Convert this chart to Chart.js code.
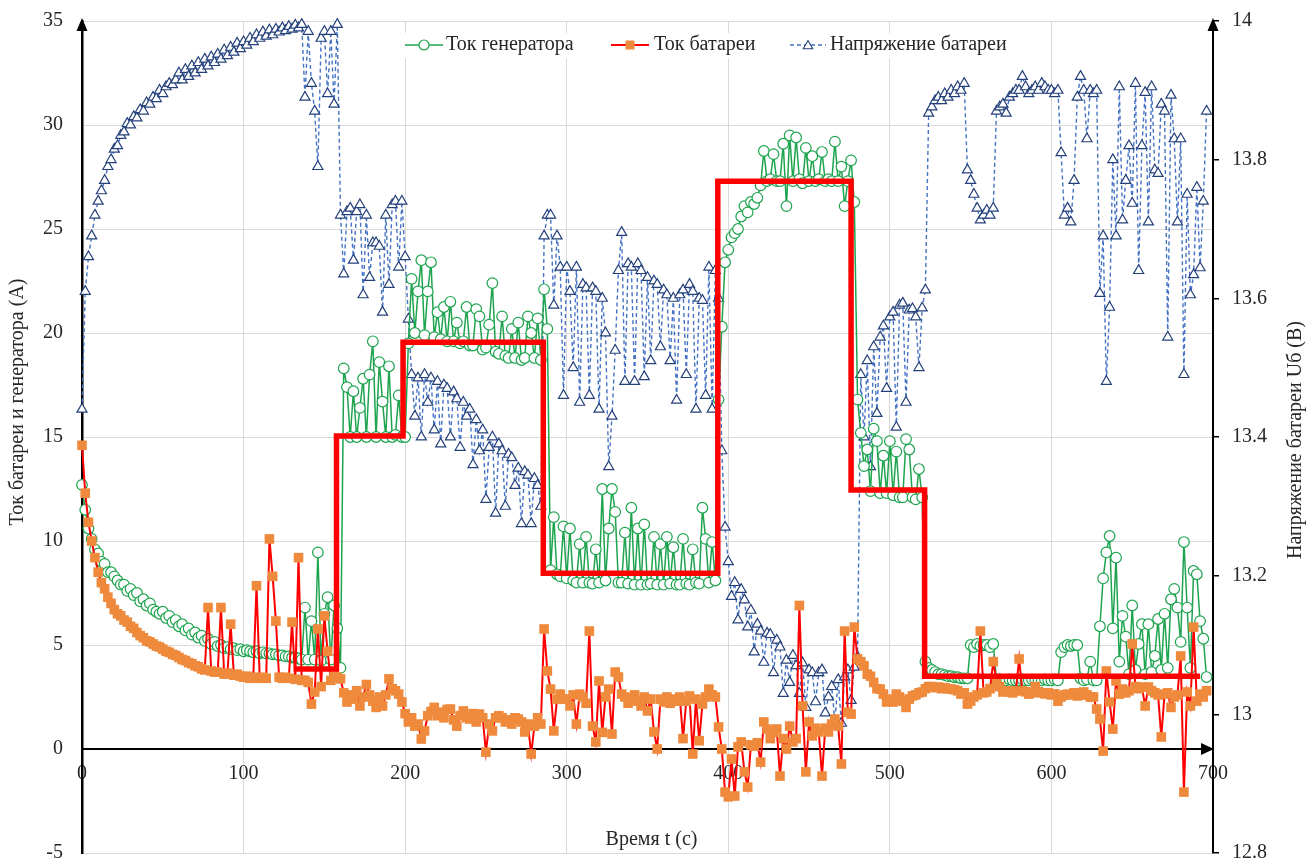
<!DOCTYPE html>
<html><head><meta charset="utf-8">
<script src="https://cdn.jsdelivr.net/npm/chart.js@4.4.1/dist/chart.umd.min.js"></script>
<style>html,body{margin:0;padding:0;background:#fff;}canvas{display:block;}</style>
</head><body>
<canvas id="c" width="1308" height="863"></canvas>
<script>
const time = [
0,2,4,6,8,10,12,14,16,18,
20,22,24,26,28,30,32,34,36,38,
40,42,44,46,48,50,52,54,56,58,
60,62,64,66,68,70,72,74,76,78,
80,82,84,86,88,90,92,94,96,98,
100,102,104,106,108,110,112,114,116,118,
120,122,124,126,128,130,132,134,136,138,
140,142,144,146,148,150,152,154,156,158,
160,162,164,166,168,170,172,174,176,178,
180,182,184,186,188,190,192,194,196,198,
200,202,204,206,208,210,212,214,216,218,
220,222,224,226,228,230,232,234,236,238,
240,242,244,246,248,250,252,254,256,258,
260,262,264,266,268,270,272,274,276,278,
280,282,284,286,288,290,292,294,296,298,
300,302,304,306,308,310,312,314,316,318,
320,322,324,326,328,330,332,334,336,338,
340,342,344,346,348,350,352,354,356,358,
360,362,364,366,368,370,372,374,376,378,
380,382,384,386,388,390,392,394,396,398,
400,402,404,406,408,410,412,414,416,418,
420,422,424,426,428,430,432,434,436,438,
440,442,444,446,448,450,452,454,456,458,
460,462,464,466,468,470,472,474,476,478,
480,482,484,486,488,490,492,494,496,498,
500,502,504,506,508,510,512,514,516,518,
520,522,524,526,528,530,532,534,536,538,
540,542,544,546,548,550,552,554,556,558,
560,562,564,566,568,570,572,574,576,578,
580,582,584,586,588,590,592,594,596,598,
600,602,604,606,608,610,612,614,616,618,
620,622,624,626,628,630,632,634,636,638,
640,642,644,646,648,650,652,654,656,658,
660,662,664,666,668,670,672,674,676,678,
680,682,684,686,688,690,692,694,696];

const generatorCurrent = [
12.7,11.5,10.6,10.1,9.6,9.4,9.0,8.9,8.5,8.5,
8.3,8.1,7.9,7.9,7.6,7.7,7.4,7.5,7.1,7.2,
6.9,7.0,6.7,6.6,6.5,6.6,6.3,6.4,6.1,6.2,
5.9,6.0,5.7,5.8,5.5,5.6,5.35,5.45,5.2,5.3,
5.05,5.15,4.95,5.0,4.85,4.9,4.8,4.85,4.75,4.8,
4.7,4.75,4.7,4.65,4.7,4.6,4.65,4.6,4.6,4.55,
4.55,4.5,4.5,4.45,4.45,4.4,4.4,4.35,4.3,6.8,
4.3,6.15,4.3,9.45,4.25,6.5,7.3,4.3,6.9,5.8,
3.9,18.3,17.4,15.0,17.2,15.0,16.4,17.8,15.0,18.0,
19.6,15.0,18.6,16.7,15.0,18.4,15.0,15.1,17.0,15.0,
15.0,19.5,22.6,20.0,22.0,23.5,19.9,22.0,23.4,19.8,
21.0,19.7,21.25,19.6,21.5,19.6,20.5,19.5,19.6,21.25,
19.4,19.4,21.15,20.8,19.2,19.3,20.4,22.4,19.1,19.0,
20.8,18.9,18.8,20.2,18.8,20.5,18.7,18.8,20.8,20.0,
18.8,20.7,18.7,22.1,20.2,8.6,11.15,8.4,8.3,10.7,
8.2,10.6,8.1,8.0,9.85,8.0,10.2,8.0,7.95,9.6,
8.0,12.5,8.1,10.6,12.5,11.4,8.0,8.0,10.4,7.95,
11.6,7.9,10.6,7.9,10.8,7.9,7.95,10.2,7.9,9.85,
7.9,10.2,7.95,9.7,7.9,7.9,10.1,7.95,7.9,9.6,
8.0,7.95,11.6,10.1,8.0,9.95,8.1,16.8,20.3,23.4,
24.0,24.6,24.8,25.0,25.6,26.1,25.8,26.3,26.2,26.5,
27.1,28.75,27.3,27.4,28.6,27.3,27.3,29.1,26.1,29.5,
27.3,29.4,27.4,27.2,28.9,27.3,28.5,27.3,27.4,28.7,
27.3,27.4,27.3,29.2,27.3,28.0,26.1,27.3,28.3,26.3,
16.8,15.2,13.6,14.4,12.4,15.4,14.8,12.3,14.1,12.3,
14.8,12.2,14.3,12.1,12.1,14.9,14.4,12.1,12.0,13.46,
12.1,4.2,3.9,3.8,3.7,3.6,3.6,3.55,3.5,3.5,
3.45,3.45,3.4,3.4,3.4,5.0,4.9,5.05,4.95,5.0,
5.0,4.9,5.05,3.3,3.35,3.3,3.3,3.35,3.3,3.3,
3.3,3.35,3.3,3.3,3.35,3.3,3.3,3.3,3.35,3.3,
3.3,3.35,3.3,4.66,4.9,5.0,4.95,5.0,5.0,3.4,
3.3,3.35,4.2,3.3,3.3,5.9,8.2,9.45,10.24,5.8,
9.2,4.2,6.4,5.4,3.6,6.9,3.8,5.05,6.0,3.6,
6.0,3.7,4.47,6.25,3.8,6.5,3.9,7.2,7.7,6.8,
5.15,9.95,6.8,3.9,8.56,8.4,6.15,5.3,3.46];

const batteryCurrent = [
14.6,12.3,10.9,10.0,9.2,8.5,8.0,7.7,7.3,7.0,
6.7,6.5,6.4,6.2,6.1,5.9,5.8,5.6,5.45,5.35,
5.2,5.15,5.05,4.95,4.9,4.8,4.7,4.65,4.55,4.5,
4.4,4.3,4.25,4.15,4.1,4.0,3.95,3.85,3.8,6.8,
3.75,3.7,3.7,6.8,3.6,3.65,6.0,3.55,3.6,3.5,
3.45,3.5,3.4,3.45,7.85,3.4,3.45,3.4,10.1,8.3,
6.15,3.45,3.4,3.45,3.4,6.1,3.35,9.2,3.3,3.3,
3.2,2.16,2.74,5.77,3.0,6.4,4.7,3.3,3.5,3.45,
3.37,2.7,2.26,2.6,2.4,2.8,2.07,2.5,3.1,2.6,
2.3,2.0,2.5,2.07,2.6,3.37,2.9,2.8,2.64,2.26,
1.7,1.3,1.5,1.1,1.2,0.48,0.87,1.6,1.8,2.0,
1.6,1.77,1.5,1.9,1.92,1.4,1.1,1.6,1.83,1.5,
1.44,1.7,1.3,1.68,1.5,-0.15,1.2,0.87,1.5,1.6,
1.5,1.3,1.4,1.2,1.5,1.44,1.3,0.82,1.2,-0.24,
1.1,1.5,1.2,5.77,3.75,2.88,0.87,2.4,2.64,2.4,
2.4,2.07,2.6,1.2,2.64,2.5,2.2,5.67,1.1,0.34,
3.27,0.8,2.5,2.88,0.72,3.7,3.46,2.64,2.5,2.2,
2.4,2.6,2.3,2.07,2.5,1.83,2.4,0.82,0.0,2.4,
2.26,2.5,2.2,2.4,2.3,2.5,0.5,2.3,2.55,-0.24,
2.4,0.4,2.16,2.5,2.88,2.6,2.5,1.06,0.0,-2.07,
-2.3,-0.48,-2.26,0.1,0.34,-1.1,-1.83,0.2,0.14,0.3,
-0.63,1.3,0.96,0.5,0.8,0.96,-1.3,0.5,0.0,1.1,
0.34,0.5,6.9,2.07,-1.1,1.3,0.63,1.0,0.82,-1.3,
1.0,0.82,1.2,1.44,1.1,-0.72,5.67,1.77,1.68,5.86,
4.33,4.2,4.0,3.6,3.5,3.2,2.9,2.88,2.64,2.26,
2.4,2.26,2.64,2.5,2.3,2.0,2.4,2.55,2.6,2.7,
2.74,2.9,3.0,3.0,2.95,2.98,2.9,2.95,2.9,2.88,
2.85,2.8,2.64,2.7,2.16,2.3,2.5,2.6,5.67,2.7,
2.74,2.9,4.2,3.27,3.0,2.74,2.8,2.75,2.7,2.8,
4.33,2.8,2.75,2.64,2.7,3.0,2.75,2.7,2.65,2.7,
2.6,2.65,2.3,2.5,2.6,2.64,2.6,2.7,2.55,2.6,
2.74,2.6,2.5,2.5,1.92,1.44,-0.1,3.75,2.26,0.96,
3.27,2.64,2.88,2.7,2.8,5.05,3.0,2.9,2.98,2.07,
2.98,2.8,2.7,2.6,0.58,2.64,2.7,2.0,2.5,2.6,
4.47,-2.07,2.74,2.07,5.86,2.3,2.64,2.5,2.8];

const batteryVoltage = [
13.44,13.61,13.66,13.69,13.72,13.74,13.755,13.77,13.79,13.80,
13.815,13.82,13.835,13.84,13.852,13.85,13.862,13.86,13.872,13.87,
13.882,13.88,13.89,13.888,13.90,13.895,13.905,13.91,13.908,13.915,
13.925,13.915,13.93,13.92,13.935,13.925,13.94,13.93,13.945,13.935,
13.948,13.94,13.952,13.945,13.958,13.95,13.962,13.955,13.968,13.96,
13.97,13.965,13.975,13.97,13.98,13.975,13.984,13.978,13.987,13.98,
13.988,13.984,13.99,13.986,13.992,13.988,13.994,13.99,13.995,13.89,
13.985,13.91,13.87,13.79,13.975,13.985,13.895,13.985,13.88,13.995,
13.72,13.635,13.725,13.73,13.655,13.725,13.735,13.605,13.72,13.63,
13.68,13.68,13.675,13.58,13.72,13.62,13.735,13.74,13.645,13.74,
13.66,13.57,13.49,13.43,13.485,13.40,13.49,13.45,13.485,13.41,
13.48,13.39,13.475,13.47,13.40,13.465,13.455,13.385,13.45,13.43,
13.44,13.36,13.425,13.38,13.41,13.31,13.385,13.40,13.29,13.39,
13.38,13.30,13.375,13.37,13.33,13.355,13.275,13.35,13.345,13.275,
13.34,13.33,13.30,13.69,13.72,13.72,13.59,13.69,13.645,13.46,
13.645,13.61,13.50,13.645,13.45,13.62,13.615,13.46,13.615,13.61,
13.44,13.60,13.55,13.357,13.43,13.525,13.64,13.695,13.48,13.65,
13.645,13.48,13.65,13.64,13.487,13.63,13.51,13.625,13.62,13.53,
13.612,13.605,13.51,13.60,13.453,13.605,13.612,13.49,13.62,13.61,
13.44,13.60,13.597,13.46,13.645,13.44,13.64,13.60,13.38,13.27,
13.22,13.17,13.19,13.136,13.18,13.165,13.126,13.15,13.09,13.13,
13.12,13.075,13.117,13.115,13.06,13.107,13.097,13.03,13.078,13.046,
13.085,13.07,13.03,13.074,13.01,13.064,13.06,13.018,13.06,13.064,
13.002,13.025,13.04,12.99,13.05,12.987,13.054,13.064,13.02,13.068,
13.083,13.49,13.40,13.51,13.357,13.53,13.434,13.544,13.56,13.47,
13.573,13.58,13.414,13.59,13.593,13.45,13.583,13.585,13.573,13.50,
13.586,13.612,13.867,13.876,13.885,13.89,13.885,13.895,13.89,13.90,
13.895,13.905,13.90,13.91,13.785,13.77,13.75,13.73,13.713,13.72,
13.727,13.72,13.73,13.87,13.876,13.88,13.867,13.89,13.895,13.90,
13.90,13.92,13.905,13.895,13.90,13.905,13.90,13.91,13.905,13.90,
13.90,13.895,13.90,13.81,13.72,13.73,13.71,13.77,13.89,13.92,
13.90,13.83,13.90,13.895,13.90,13.607,13.69,13.48,13.587,13.80,
13.69,13.905,13.713,13.77,13.82,13.737,13.91,13.64,13.82,13.897,
13.71,13.905,13.785,13.78,13.88,13.87,13.544,13.893,13.83,13.71,
13.83,13.49,13.75,13.605,13.634,13.76,13.644,13.74,13.87];

const stepTime = [131,157.5,157.5,198.7,198.7,285.5,285.5,393.5,393.5,476,476,521.5,521.5,692];
const stepCurrent = [3.85,3.85,15.05,15.05,19.55,19.55,8.45,8.45,27.3,27.3,12.45,12.45,3.5,3.5];

const seriesNames = ['Ток генератора', 'Ток батареи', 'Напряжение батареи'];
const xTitle = 'Время t (с)';
const yTitle = 'Ток батареи и генератора (А)';
const y1Title = 'Напряжение батареи Uб (В)';

const GREEN = '#1ea44f', RED = '#ff0000', ORANGE = '#ef8a3c', BLUE = '#4472c4', NAVY = '#24407a';
const FONT = '"Liberation Serif", "Times New Roman", serif';
const TEXT = '#262626';

function pts(xs, ys) { return xs.map((x, i) => ({x: x, y: ys[i]})); }

function triPath(ctx, x, y, r) {
  ctx.beginPath();
  for (let k = 0; k < 3; k++) {
    const a = k * 2 * Math.PI / 3;
    const px = x + Math.sin(a) * r, py = y - Math.cos(a) * r;
    if (k === 0) ctx.moveTo(px, py); else ctx.lineTo(px, py);
  }
  ctx.closePath();
}

const decor = {
  id: 'decor',
  afterDraw(chart) {
    const ctx = chart.ctx, a = chart.chartArea;
    const y0 = chart.scales.y.getPixelForValue(0);
    ctx.save();
    ctx.fillStyle = '#000';
    const tri = (p) => { ctx.beginPath(); ctx.moveTo(p[0][0], p[0][1]); ctx.lineTo(p[1][0], p[1][1]); ctx.lineTo(p[2][0], p[2][1]); ctx.closePath(); ctx.fill(); };
    tri([[a.left, a.top - 3], [a.left - 5.5, a.top + 10], [a.left + 5.5, a.top + 10]]);
    tri([[a.right, a.top - 3], [a.right - 5.5, a.top + 10], [a.right + 5.5, a.top + 10]]);
    tri([[a.right + 1, y0], [a.right - 12, y0 - 6], [a.right - 12, y0 + 6]]);
    ctx.font = '20px ' + FONT;
    ctx.fillStyle = TEXT;
    ctx.textAlign = 'center';
    ctx.textBaseline = 'middle';
    ctx.fillText(xTitle, (a.left + a.right) / 2 + 4, 840);
    ctx.save(); ctx.translate(18, 402); ctx.rotate(-Math.PI / 2); ctx.fillText(yTitle, 0, 0); ctx.restore();
    ctx.save(); ctx.translate(1296, 440); ctx.rotate(-Math.PI / 2); ctx.fillText(y1Title, 0, 0); ctx.restore();
    const ly = 45;
    ctx.fillStyle = '#fff';
    ctx.fillRect(398, 33, 632, 25);
    ctx.textAlign = 'left';
    ctx.strokeStyle = GREEN; ctx.lineWidth = 1.5;
    ctx.beginPath(); ctx.moveTo(405, ly); ctx.lineTo(443, ly); ctx.stroke();
    ctx.beginPath(); ctx.arc(424, ly, 5, 0, Math.PI * 2); ctx.fillStyle = '#fff'; ctx.fill(); ctx.lineWidth = 1.2; ctx.stroke();
    ctx.fillStyle = TEXT; ctx.fillText(seriesNames[0], 446, ly);
    ctx.strokeStyle = RED; ctx.lineWidth = 2;
    ctx.beginPath(); ctx.moveTo(611, ly); ctx.lineTo(649, ly); ctx.stroke();
    ctx.fillStyle = ORANGE; ctx.fillRect(625.5, ly - 4.5, 9, 9);
    ctx.fillStyle = TEXT; ctx.fillText(seriesNames[1], 654, ly);
    ctx.strokeStyle = BLUE; ctx.lineWidth = 1.5; ctx.setLineDash([4, 3]);
    ctx.beginPath(); ctx.moveTo(790, ly); ctx.lineTo(826, ly); ctx.stroke();
    ctx.setLineDash([]);
    triPath(ctx, 808, ly + 1, 5.5); ctx.fillStyle = '#fff'; ctx.fill(); ctx.strokeStyle = NAVY; ctx.lineWidth = 1.1; ctx.stroke();
    ctx.fillStyle = TEXT; ctx.fillText(seriesNames[2], 830, ly);
    ctx.restore();
  }
};

Chart.defaults.font.family = FONT;
Chart.defaults.font.size = 20;
Chart.defaults.color = TEXT;

const gridColor = '#d9d9d9';

new Chart(document.getElementById('c'), {
  type: 'line',
  data: {
    datasets: [
      {
        label: 'step', data: pts(stepTime, stepCurrent), yAxisID: 'y',
        borderColor: RED, borderWidth: 5.5, pointRadius: 0, fill: false, tension: 0,
        borderJoinStyle: 'miter', borderCapStyle: 'butt', order: 1, clip: false
      },
      {
        label: seriesNames[1], data: pts(time, batteryCurrent), yAxisID: 'y',
        borderColor: RED, borderWidth: 2, pointStyle: 'rect', pointRadius: 6.8,
        pointBackgroundColor: ORANGE, pointBorderColor: ORANGE, pointBorderWidth: 0,
        fill: false, tension: 0, order: 2, clip: false
      },
      {
        label: seriesNames[0], data: pts(time, generatorCurrent), yAxisID: 'y',
        borderColor: GREEN, borderWidth: 1.5, pointStyle: 'circle', pointRadius: 5.3,
        pointBackgroundColor: '#fff', pointBorderColor: GREEN, pointBorderWidth: 1.2,
        fill: false, tension: 0, order: 3, clip: false
      },
      {
        label: seriesNames[2], data: pts(time, batteryVoltage), yAxisID: 'y1',
        borderColor: BLUE, borderWidth: 1.4, borderDash: [4, 3], pointStyle: 'triangle', pointRadius: 5.8,
        pointBackgroundColor: '#fff', pointBorderColor: NAVY, pointBorderWidth: 1.2,
        fill: false, tension: 0, order: 4, clip: false
      }
    ]
  },
  options: {
    responsive: false,
    animation: false,
    devicePixelRatio: 1,
    layout: {padding: {top: 21, bottom: 10, left: 0, right: 0}},
    plugins: {legend: {display: false}, tooltip: {enabled: false}},
    scales: {
      x: {
        type: 'linear', position: {y: 0}, min: 0, max: 700,
        ticks: {stepSize: 100, padding: 13, maxRotation: 0, color: TEXT, font: {size: 20}},
        grid: {color: (c) => (c.tick && (c.tick.value === 0 || c.tick.value === 700)) ? 'rgba(0,0,0,0)' : gridColor, drawTicks: false, lineWidth: 1},
        border: {display: true, color: '#000', width: 2},
        afterFit: (s) => { s.paddingLeft = 0; s.paddingRight = 0; }
      },
      y: {
        type: 'linear', position: 'left', min: -5, max: 35,
        ticks: {stepSize: 5, padding: 19, color: TEXT, font: {size: 20}},
        grid: {color: (c) => (c.tick && c.tick.value === 0) ? 'rgba(0,0,0,0)' : gridColor, drawTicks: false, lineWidth: 1},
        border: {display: true, color: '#000', width: 2.5},
        afterFit: (s) => { s.width = 82; s.paddingTop = 0; s.paddingBottom = 0; }
      },
      y1: {
        type: 'linear', position: 'right', min: 12.8, max: 14,
        ticks: {stepSize: 0.2, padding: 13, color: TEXT, font: {size: 20},
          callback: (v) => String(Math.round(v * 10) / 10)},
        grid: {drawOnChartArea: false, drawTicks: true, tickLength: 6, color: '#000', lineWidth: 1.5},
        border: {display: true, color: '#000', width: 2},
        afterFit: (s) => { s.width = 95; s.paddingTop = 0; s.paddingBottom = 0; }
      }
    }
  },
  plugins: [decor]
});
</script>
</body></html>
